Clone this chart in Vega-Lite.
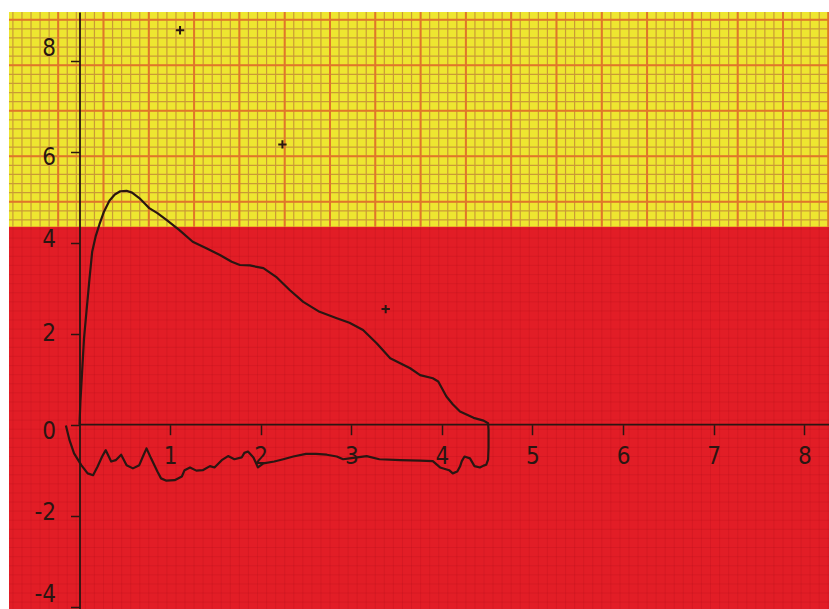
{
  "$schema": "https://vega.github.io/schema/vega-lite/v6.json",
  "width": 820,
  "height": 597,
  "padding": {"left": 9, "top": 12, "right": 0, "bottom": 0},
  "autosize": {"type": "none"},
  "background": "white",
  "config": {"view": {"fill": "#e21d26", "stroke": null}},
  "datasets": {
    "vminor": [{"x":-0.735},{"x":-0.635},{"x":-0.535},{"x":-0.435},{"x":-0.335},{"x":-0.235},{"x":-0.135},{"x":-0.035},{"x":0.065},{"x":0.165},{"x":0.265},{"x":0.365},{"x":0.465},{"x":0.565},{"x":0.665},{"x":0.765},{"x":0.865},{"x":0.965},{"x":1.065},{"x":1.165},{"x":1.265},{"x":1.365},{"x":1.465},{"x":1.565},{"x":1.665},{"x":1.765},{"x":1.865},{"x":1.965},{"x":2.065},{"x":2.165},{"x":2.265},{"x":2.365},{"x":2.465},{"x":2.565},{"x":2.665},{"x":2.765},{"x":2.865},{"x":2.965},{"x":3.065},{"x":3.165},{"x":3.265},{"x":3.365},{"x":3.465},{"x":3.565},{"x":3.665},{"x":3.765},{"x":3.865},{"x":3.965},{"x":4.065},{"x":4.165},{"x":4.265},{"x":4.365},{"x":4.465},{"x":4.565},{"x":4.665},{"x":4.765},{"x":4.865},{"x":4.965},{"x":5.065},{"x":5.165},{"x":5.265},{"x":5.365},{"x":5.465},{"x":5.565},{"x":5.665},{"x":5.765},{"x":5.865},{"x":5.965},{"x":6.065},{"x":6.165},{"x":6.265},{"x":6.365},{"x":6.465},{"x":6.565},{"x":6.665},{"x":6.765},{"x":6.865},{"x":6.965},{"x":7.065},{"x":7.165},{"x":7.265},{"x":7.365},{"x":7.465},{"x":7.565},{"x":7.665},{"x":7.765},{"x":7.865},{"x":7.965},{"x":8.065},{"x":8.165},{"x":8.265}],
    "vmajor": [{"x":-0.235},{"x":0.265},{"x":0.765},{"x":1.265},{"x":1.765},{"x":2.265},{"x":2.765},{"x":3.265},{"x":3.765},{"x":4.265},{"x":4.765},{"x":5.265},{"x":5.765},{"x":6.265},{"x":6.765},{"x":7.265},{"x":7.765},{"x":8.265}],
    "hminor": [{"y":8.9},{"y":8.7},{"y":8.5},{"y":8.3},{"y":8.1},{"y":7.9},{"y":7.7},{"y":7.5},{"y":7.3},{"y":7.1},{"y":6.9},{"y":6.7},{"y":6.5},{"y":6.3},{"y":6.1},{"y":5.9},{"y":5.7},{"y":5.5},{"y":5.3},{"y":5.1},{"y":4.9},{"y":4.7},{"y":4.5},{"y":4.3},{"y":4.1},{"y":3.9},{"y":3.7},{"y":3.5},{"y":3.3},{"y":3.1},{"y":2.9},{"y":2.7},{"y":2.5},{"y":2.3},{"y":2.1},{"y":1.9},{"y":1.7},{"y":1.5},{"y":1.3},{"y":1.1},{"y":0.9},{"y":0.7},{"y":0.5},{"y":0.3},{"y":0.1},{"y":-0.1},{"y":-0.3},{"y":-0.5},{"y":-0.7},{"y":-0.9},{"y":-1.1},{"y":-1.3},{"y":-1.5},{"y":-1.7},{"y":-1.9},{"y":-2.1},{"y":-2.3},{"y":-2.5},{"y":-2.7},{"y":-2.9},{"y":-3.1},{"y":-3.3},{"y":-3.5},{"y":-3.7},{"y":-3.9}],
    "hmajor": [{"y":8.9},{"y":7.9},{"y":6.9},{"y":5.9},{"y":4.9},{"y":3.9},{"y":2.9},{"y":1.9},{"y":0.9},{"y":-0.1},{"y":-1.1},{"y":-2.1},{"y":-3.1}],
    "loop": [
      {"i":1,"vol":0,"flow":0},{"i":2,"vol":0.01,"flow":0.5},{"i":3,"vol":0.03,"flow":1.2},{"i":4,"vol":0.05,"flow":1.9},{"i":5,"vol":0.08,"flow":2.55},{"i":6,"vol":0.11,"flow":3.2},{"i":7,"vol":0.14,"flow":3.8},{"i":8,"vol":0.18,"flow":4.15},{"i":9,"vol":0.22,"flow":4.4},{"i":10,"vol":0.27,"flow":4.68},{"i":11,"vol":0.33,"flow":4.92},{"i":12,"vol":0.39,"flow":5.06},{"i":13,"vol":0.45,"flow":5.13},{"i":14,"vol":0.52,"flow":5.14},{"i":15,"vol":0.58,"flow":5.1},{"i":16,"vol":0.66,"flow":4.98},{"i":17,"vol":0.72,"flow":4.86},{"i":18,"vol":0.77,"flow":4.76},{"i":19,"vol":0.86,"flow":4.65},{"i":20,"vol":0.96,"flow":4.5},{"i":21,"vol":1.1,"flow":4.28},{"i":22,"vol":1.25,"flow":4.02},{"i":23,"vol":1.4,"flow":3.88},{"i":24,"vol":1.55,"flow":3.73},{"i":25,"vol":1.68,"flow":3.58},{"i":26,"vol":1.77,"flow":3.51},{"i":27,"vol":1.88,"flow":3.5},{"i":28,"vol":2.03,"flow":3.44},{"i":29,"vol":2.17,"flow":3.25},{"i":30,"vol":2.32,"flow":2.96},{"i":31,"vol":2.47,"flow":2.7},{"i":32,"vol":2.65,"flow":2.48},{"i":33,"vol":2.84,"flow":2.34},{"i":34,"vol":2.98,"flow":2.24},{"i":35,"vol":3.13,"flow":2.08},{"i":36,"vol":3.28,"flow":1.79},{"i":37,"vol":3.43,"flow":1.46},{"i":38,"vol":3.54,"flow":1.35},{"i":39,"vol":3.65,"flow":1.24},{"i":40,"vol":3.76,"flow":1.09},{"i":41,"vol":3.9,"flow":1.02},{"i":42,"vol":3.96,"flow":0.95},{"i":43,"vol":4.05,"flow":0.62},{"i":44,"vol":4.12,"flow":0.45},{"i":45,"vol":4.2,"flow":0.29},{"i":46,"vol":4.35,"flow":0.15},{"i":47,"vol":4.46,"flow":0.09},{"i":48,"vol":4.51,"flow":0.03},
      {"i":49,"vol":4.515,"flow":-0.12},{"i":50,"vol":4.515,"flow":-0.5},{"i":51,"vol":4.51,"flow":-0.77},{"i":52,"vol":4.49,"flow":-0.88},{"i":53,"vol":4.46,"flow":-0.9},{"i":54,"vol":4.42,"flow":-0.94},{"i":55,"vol":4.36,"flow":-0.91},{"i":56,"vol":4.31,"flow":-0.74},{"i":57,"vol":4.25,"flow":-0.7},{"i":58,"vol":4.22,"flow":-0.8},{"i":59,"vol":4.2,"flow":-0.92},{"i":60,"vol":4.17,"flow":-1.03},{"i":61,"vol":4.12,"flow":-1.07},{"i":62,"vol":4.08,"flow":-1.0},{"i":63,"vol":3.98,"flow":-0.94},{"i":64,"vol":3.9,"flow":-0.8},{"i":65,"vol":3.76,"flow":-0.79},{"i":66,"vol":3.54,"flow":-0.78},{"i":67,"vol":3.31,"flow":-0.76},{"i":68,"vol":3.17,"flow":-0.69},{"i":69,"vol":2.98,"flow":-0.74},{"i":70,"vol":2.91,"flow":-0.76},{"i":71,"vol":2.84,"flow":-0.7},{"i":72,"vol":2.73,"flow":-0.66},{"i":73,"vol":2.61,"flow":-0.64},{"i":74,"vol":2.5,"flow":-0.64},{"i":75,"vol":2.36,"flow":-0.7},{"i":76,"vol":2.25,"flow":-0.76},{"i":77,"vol":2.15,"flow":-0.81},{"i":78,"vol":2.03,"flow":-0.85},{"i":79,"vol":1.97,"flow":-0.94},{"i":80,"vol":1.92,"flow":-0.72},{"i":81,"vol":1.86,"flow":-0.59},{"i":82,"vol":1.82,"flow":-0.62},{"i":83,"vol":1.79,"flow":-0.72},{"i":84,"vol":1.71,"flow":-0.76},{"i":85,"vol":1.64,"flow":-0.69},{"i":86,"vol":1.57,"flow":-0.78},{"i":87,"vol":1.49,"flow":-0.94},{"i":88,"vol":1.44,"flow":-0.91},{"i":89,"vol":1.36,"flow":-1.0},{"i":90,"vol":1.29,"flow":-1.01},{"i":91,"vol":1.22,"flow":-0.94},{"i":92,"vol":1.16,"flow":-1.0},{"i":93,"vol":1.13,"flow":-1.14},{"i":94,"vol":1.05,"flow":-1.22},{"i":95,"vol":0.96,"flow":-1.23},{"i":96,"vol":0.9,"flow":-1.18},{"i":97,"vol":0.86,"flow":-1.03},{"i":98,"vol":0.79,"flow":-0.74},{"i":99,"vol":0.74,"flow":-0.52},{"i":100,"vol":0.7,"flow":-0.7},{"i":101,"vol":0.66,"flow":-0.89},{"i":102,"vol":0.59,"flow":-0.96},{"i":103,"vol":0.52,"flow":-0.89},{"i":104,"vol":0.46,"flow":-0.66},{"i":105,"vol":0.4,"flow":-0.78},{"i":106,"vol":0.35,"flow":-0.81},{"i":107,"vol":0.29,"flow":-0.56},{"i":108,"vol":0.25,"flow":-0.7},{"i":109,"vol":0.2,"flow":-0.92},{"i":110,"vol":0.15,"flow":-1.11},{"i":111,"vol":0.09,"flow":-1.07},{"i":112,"vol":0.02,"flow":-0.89},{"i":113,"vol":-0.06,"flow":-0.63},{"i":114,"vol":-0.11,"flow":-0.34},{"i":115,"vol":-0.15,"flow":-0.02}
    ],
    "marks": [{"vol":1.11,"flow":8.67},{"vol":2.24,"flow":6.16},{"vol":3.38,"flow":2.54}]
  },
  "layer": [
    {
      "data": {"name": "vminor"},
      "mark": {"type": "rule", "color": "#9a0e16", "opacity": 0.16, "strokeWidth": 1},
      "encoding": {
        "x": {
          "field": "x", "type": "quantitative",
          "scale": {"domain": [-0.778, 8.273], "nice": false, "zero": false},
          "axis": {
            "orient": "bottom", "offset": -184.3, "values": [1, 2, 3, 4, 5, 6, 7, 8], "format": "d",
            "domain": false, "grid": false, "ticks": true, "tickSize": 10, "tickWidth": 1.5, "tickColor": "#2a1612",
            "labelFont": "Liberation Sans Narrow, DejaVu Sans Condensed, Roboto", "labelFontSize": 24, "labelColor": "#2a1612",
            "labelPadding": 10, "labelDx": 5, "labelFlush": false, "labelOverlap": false, "title": null, "zindex": 2
          }
        }
      }
    },
    {
      "data": {"name": "hminor"},
      "mark": {"type": "rule", "color": "#9a0e16", "opacity": 0.16, "strokeWidth": 1},
      "encoding": {
        "y": {
          "field": "y", "type": "quantitative",
          "scale": {"domain": [-4.051, 9.07], "nice": false, "zero": false},
          "axis": {
            "orient": "left", "offset": -70.5, "values": [-4, -2, 0, 2, 4, 6, 8],
            "domain": true, "domainColor": "#2a1612", "domainWidth": 1.8,
            "grid": false, "ticks": true, "tickSize": 9, "tickWidth": 1.5, "tickColor": "#2a1612",
            "labelFont": "Liberation Sans Narrow, DejaVu Sans Condensed, Roboto", "labelFontSize": 24, "labelColor": "#2a1612",
            "labelPadding": 15, "labelFlush": false, "labelOverlap": false,
            "labelOffset": {"condition": [{"test": "datum.value == 8", "value": -12}, {"test": "datum.value == 6", "value": 6}, {"test": "datum.value == 0", "value": 7}, {"test": "datum.value == -4", "value": -12}, {"test": "datum.value == 4 || datum.value == -2", "value": -3}], "value": 0},
            "labelExpr": "datum.value < 0 ? '-' + (-datum.value) : '' + datum.value",
            "title": null, "zindex": 2
          }
        }
      }
    },
    {
      "data": {"values": [{}]},
      "mark": {"type": "rect", "color": "#eee630", "opacity": 1},
      "encoding": {
        "x": {"datum": -0.778, "type": "quantitative", "title": null},
        "x2": {"datum": 8.273},
        "y": {"datum": 4.35, "type": "quantitative", "title": null},
        "y2": {"datum": 9.07}
      }
    },
    {
      "data": {"name": "vminor"},
      "mark": {"type": "rule", "color": "#c99a36", "strokeWidth": 1.2},
      "encoding": {
        "x": {"field": "x", "type": "quantitative", "title": null},
        "y": {"datum": 4.35, "type": "quantitative", "title": null},
        "y2": {"datum": 9.07}
      }
    },
    {
      "data": {"name": "hminor"},
      "transform": [{"filter": "datum.y > 4.35"}],
      "mark": {"type": "rule", "color": "#c99a36", "strokeWidth": 1.2},
      "encoding": {
        "y": {"field": "y", "type": "quantitative", "title": null}
      }
    },
    {
      "data": {"name": "vmajor"},
      "mark": {"type": "rule", "color": "#e0762a", "strokeWidth": 2},
      "encoding": {
        "x": {"field": "x", "type": "quantitative", "title": null},
        "y": {"datum": 4.35, "type": "quantitative", "title": null},
        "y2": {"datum": 9.07}
      }
    },
    {
      "data": {"name": "hmajor"},
      "transform": [{"filter": "datum.y > 4.35"}],
      "mark": {"type": "rule", "color": "#e0762a", "strokeWidth": 2},
      "encoding": {
        "y": {"field": "y", "type": "quantitative", "title": null}
      }
    },
    {
      "data": {"values": [{}]},
      "mark": {"type": "rule", "color": "#2a1612", "strokeWidth": 1.8},
      "encoding": {
        "x": {"datum": 0, "type": "quantitative", "title": null},
        "x2": {"datum": 8.273},
        "y": {"datum": 0, "type": "quantitative", "title": null}
      }
    },
    {
      "data": {"name": "loop"},
      "mark": {"type": "line", "color": "#2a1612", "strokeWidth": 2.2, "strokeJoin": "round"},
      "encoding": {
        "order": {"field": "i", "type": "quantitative"},
        "x": {"field": "vol", "type": "quantitative", "title": null},
        "y": {"field": "flow", "type": "quantitative", "title": null}
      }
    },
    {
      "data": {"name": "marks"},
      "mark": {"type": "point", "shape": "M-1,0L1,0M0,-1L0,1", "size": 70, "stroke": "#2a1612", "strokeWidth": 2, "filled": false, "opacity": 1},
      "encoding": {
        "x": {"field": "vol", "type": "quantitative", "title": null},
        "y": {"field": "flow", "type": "quantitative", "title": null}
      }
    }
  ]
}
